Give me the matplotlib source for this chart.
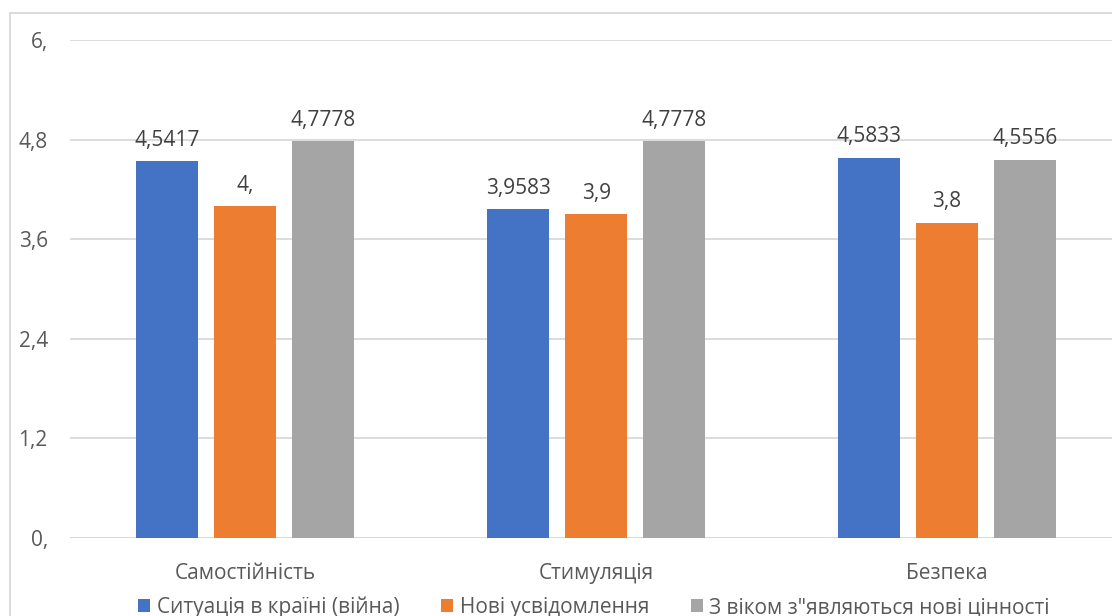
import matplotlib
matplotlib.use("Agg")
import matplotlib.pyplot as plt
import numpy as np
from matplotlib.patches import Rectangle, Patch

categories = ["Самостійність", "Стимуляція", "Безпека"]
series_names = ["Ситуація в країні (війна)", "Нові усвідомлення", "З віком з\"являються нові цінності"]
vals_war = [4.5417, 3.9583, 4.5833]
vals_new = [4.0, 3.9, 3.8]
vals_age = [4.7778, 4.7778, 4.5556]
labels_war = ["4,5417", "3,9583", "4,5833"]
labels_new = ["4,", "3,9", "3,8"]
labels_age = ["4,7778", "4,7778", "4,5556"]
yticks = [0, 1.2, 2.4, 3.6, 4.8, 6.0]
ytick_labels = ["0,", "1,2", "2,4", "3,6", "4,8", "6,"]

colors = ["#4472C4", "#ED7D31", "#A5A5A5"]
txt = "#595959"
plt.rcParams['font.family'] = ['Open Sans', 'DejaVu Sans']

W, H = 1112, 616
fig = plt.figure(figsize=(W/100, H/100), dpi=100)
ax = fig.add_axes([70/W, (H-538)/H, 1 - 70/W, (538-40)/H])

x = np.arange(len(categories))
bw = 62/351
step = 78/351
series = [vals_war, vals_new, vals_age]
labs = [labels_war, labels_new, labels_age]
for i, (v, l) in enumerate(zip(series, labs)):
    bars = ax.bar(x + (i-1)*step, v, width=bw, color=colors[i], zorder=3, label=series_names[i])
    for b, t in zip(bars, l):
        ax.annotate(t, (b.get_x() + b.get_width()/2, b.get_height()), xytext=(0, 7.5),
                    textcoords="offset points", ha="center", va="bottom", fontsize=15, color="#404040")

ax.set_ylim(0, 6)
ax.set_xlim(-0.5, (W-245)/351)
ax.set_yticks(yticks)
ax.set_yticklabels(ytick_labels, fontsize=15, color=txt)
ax.set_xticks(x)
ax.set_xticklabels(categories, fontsize=15, color=txt)
ax.tick_params(axis='both', length=0)
ax.tick_params(axis='y', pad=16)
ax.tick_params(axis='x', pad=18)
ax.grid(axis='y', color="#D9D9D9", linewidth=1.3, zorder=0)
for s in ax.spines.values():
    s.set_visible(False)
ax.axhline(0, color="#D9D9D9", linewidth=1.3, zorder=2)

fig.patches.append(Rectangle((10/W, -0.5), 2, (H-13)/H + 0.5, transform=fig.transFigure,
                             fill=False, edgecolor="#D9D9D9", linewidth=1.3))

handles = [Patch(facecolor=c, edgecolor='none') for c in colors]
fig.legend(handles, series_names, loc='center', bbox_to_anchor=(0.534, 0.014), ncol=3,
           frameon=False, fontsize=15, labelcolor=txt, handlelength=0.6, handleheight=0.6,
           handletextpad=0.3, columnspacing=2.0)

fig.savefig("out.png", dpi=100)
